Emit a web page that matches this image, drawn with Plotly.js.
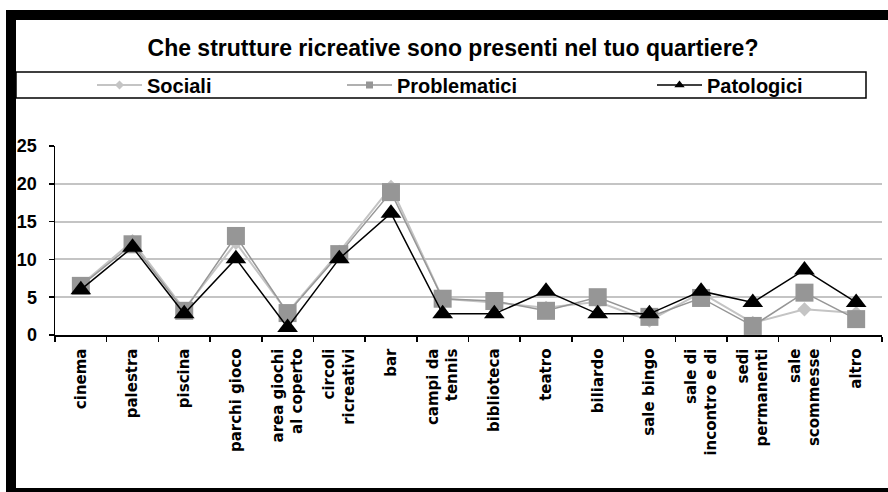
<!DOCTYPE html>
<html>
<head>
<meta charset="utf-8">
<script src="https://cdn.plot.ly/plotly-3.0.1.min.js"></script>
<style>
  html, body { margin: 0; padding: 0; background: #ffffff; }
  #chart { width: 888px; height: 492px; }
  #chart g.traces { opacity: 1 !important; }
</style>
</head>
<body>
<div id="chart"></div>
<script>
// ---- data ----
var titleText = "Che strutture ricreative sono presenti nel tuo quartiere?";
var categories = ["cinema", "palestra", "piscina", "parchi gioco", "area giochi<br>al coperto",
  "circoli<br>ricreativi", "bar", "campi da<br>tennis", "biblioteca", "teatro", "biliardo",
  "sale bingo", "sale di<br>incontro e di", "sedi<br>permanenti", "sale<br>scommesse", "altro"];
var seriesNames = ["Sociali", "Problematici", "Patologici"];
var sociali      = [6.6, 12.4, 3.4, 12.2, 3.0, 11.0, 19.6, 4.8, 4.3, 3.6, 4.4, 1.9, 5.6, 1.6, 3.4, 2.9];
var problematici = [6.5, 12.0, 3.2, 13.1, 2.9, 10.7, 18.9, 4.8, 4.5, 3.2, 5.0, 2.4, 4.9, 1.2, 5.6, 2.1];
var patologici   = [6.0, 11.6, 2.8, 10.1, 1.0, 10.1, 16.1, 2.8, 2.8, 5.8, 2.8, 2.8, 5.8, 4.3, 8.6, 4.3];
var yTicks = [0, 5, 10, 15, 20, 25];

// ---- geometry helpers (pixel -> paper) ----
var W = 888, H = 492;
var ML = 55, MR = 6, MT = 146, MB = 157;
var PW = W - ML - MR, PH = H - MT - MB;
function px(x) { return (x - ML) / PW; }
function py(y) { return (H - MB - y) / PH; }

var values = [sociali, problematici, patologici];
var styles = [
  {color: "#c4c4c4", lineColor: "#c4c4c4", symbol: "diamond", size: 11, lw: 2, lsize: 7, legend: "legend"},
  {color: "#969696", lineColor: "#969696", symbol: "square", size: 18, lw: 1.5, lsize: 7, legend: "legend2"},
  {color: "#000000", lineColor: "#000000", symbol: "triangle-up", size: 18, lw: 1.5, lsize: 9, legend: "legend3"}
];

var traces = [];
values.forEach(function (vals, i) {
  var s = styles[i];
  traces.push({
    type: "scatter", mode: "lines+markers", name: seriesNames[i],
    x: categories, y: vals, showlegend: false,
    line: {color: s.lineColor, width: s.lw},
    marker: {symbol: s.symbol, size: s.size, color: s.color}
  });
});
values.forEach(function (vals, i) {
  var s = styles[i];
  traces.push({
    type: "scatter", mode: "lines+markers", name: seriesNames[i],
    x: categories, y: vals, visible: "legendonly", legend: s.legend,
    line: {color: s.lineColor, width: s.lw},
    marker: {symbol: s.symbol, size: s.lsize, color: s.color}
  });
});

var legendFont = {family: "Liberation Sans, Arial, sans-serif", size: 20, color: "#000", weight: 700};
function legendAt(xPix) {
  return {
    x: px(xPix), xanchor: "left", y: py(85), yanchor: "middle",
    orientation: "h", bgcolor: "rgba(0,0,0,0)", borderwidth: 0,
    font: legendFont, itemwidth: 45, itemclick: false, itemdoubleclick: false
  };
}

var shapes = [
  // black frame
  {type: "rect", xref: "paper", yref: "paper", x0: px(6), x1: px(888), y0: py(20), y1: py(10),
   fillcolor: "#000", line: {width: 0}, layer: "above"},
  {type: "rect", xref: "paper", yref: "paper", x0: px(6), x1: px(16), y0: py(488), y1: py(10),
   fillcolor: "#000", line: {width: 0}, layer: "above"},
  {type: "rect", xref: "paper", yref: "paper", x0: px(6), x1: px(888), y0: py(492), y1: py(488),
   fillcolor: "#000", line: {width: 0}, layer: "above"},
  // legend box
  {type: "rect", xref: "paper", yref: "paper", x0: px(16), x1: px(866), y0: py(98), y1: py(72),
   fillcolor: "rgba(0,0,0,0)", line: {color: "#000", width: 1.5}, layer: "above"}
];

var layout = {
  width: W, height: H,
  margin: {l: ML, r: MR, t: MT, b: MB, pad: 0},
  paper_bgcolor: "#ffffff", plot_bgcolor: "#ffffff",
  showlegend: true,
  title: {
    text: titleText, xref: "container", x: 453 / W, xanchor: "center",
    yref: "container", y: 1 - 48 / H, yanchor: "middle",
    font: {family: "Liberation Sans, Arial, sans-serif", size: 23, color: "#000", weight: 700}
  },
  xaxis: {
    type: "category", range: [-0.5, categories.length - 0.5],
    showgrid: false, showline: true, linecolor: "#000", linewidth: 1.5,
    ticks: "outside", tickson: "boundaries", ticklen: 5, tickcolor: "#000", tickwidth: 1.5,
    tickangle: -90, ticklabelstandoff: 6,
    tickfont: {family: "DejaVu Sans, sans-serif", size: 15, color: "#000", weight: 700},
    zeroline: false, fixedrange: true
  },
  yaxis: {
    range: [0, 25], tickvals: yTicks, ticktext: yTicks.map(String),
    showgrid: true, gridcolor: "#c4c4c4", gridwidth: 2,
    showline: true, linecolor: "#000", linewidth: 1.5,
    ticks: "outside", ticklen: 5, tickcolor: "#000", tickwidth: 1.5, ticklabelstandoff: 8,
    tickfont: {family: "Liberation Sans, Arial, sans-serif", size: 18, color: "#000", weight: 700},
    zeroline: false, fixedrange: true
  },
  legend: legendAt(92),
  legend2: legendAt(342),
  legend3: legendAt(652),
  shapes: shapes
};

Plotly.newPlot("chart", traces, layout, {displayModeBar: false, staticPlot: true});
</script>
</body>
</html>
